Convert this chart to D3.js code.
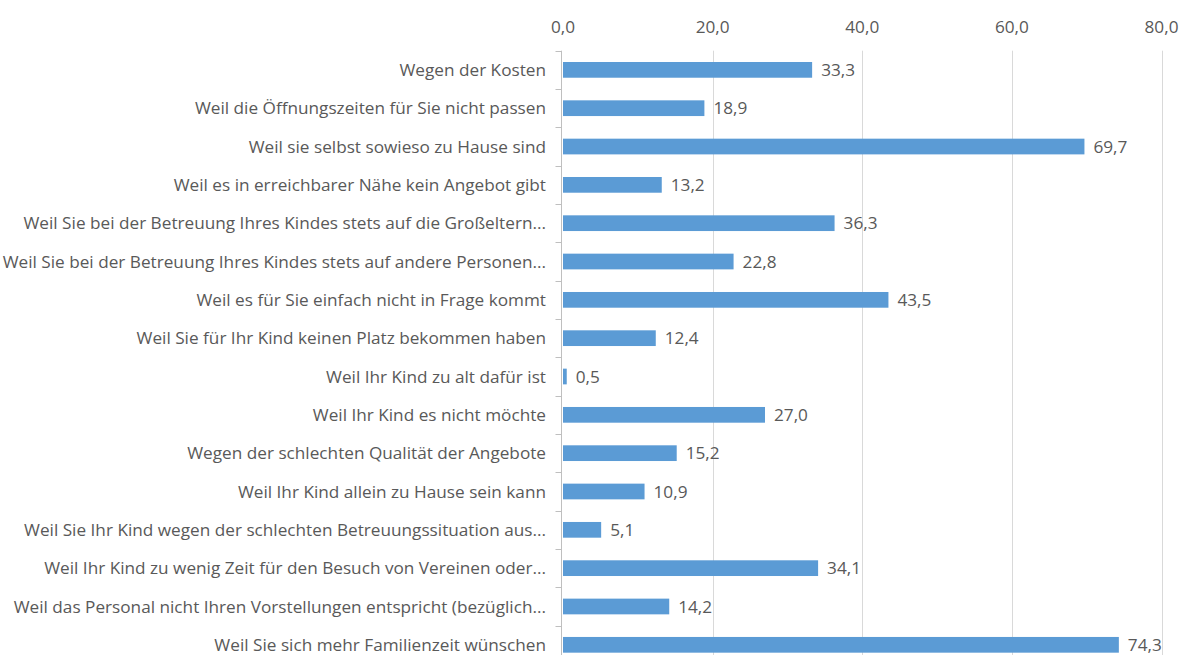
<!DOCTYPE html>
<html>
<head>
<meta charset="utf-8">
<script src="https://cdn.jsdelivr.net/npm/d3@7"></script>
<style>
  body { margin: 0; background: #fff; }
  svg text { font-family: "Open Sans", sans-serif; fill: #595959; font-size: 17.2px; }
</style>
</head>
<body>
<div id="chart"></div>
<script>
var categories = [
  "Wegen der Kosten",
  "Weil die Öffnungszeiten für Sie nicht passen",
  "Weil sie selbst sowieso zu Hause sind",
  "Weil es in erreichbarer Nähe kein Angebot gibt",
  "Weil Sie bei der Betreuung Ihres Kindes stets auf die Großeltern...",
  "Weil Sie bei der Betreuung Ihres Kindes stets auf andere Personen...",
  "Weil es für Sie einfach nicht in Frage kommt",
  "Weil Sie für Ihr Kind keinen Platz bekommen haben",
  "Weil Ihr Kind zu alt dafür ist",
  "Weil Ihr Kind es nicht möchte",
  "Wegen der schlechten Qualität der Angebote",
  "Weil Ihr Kind allein zu Hause sein kann",
  "Weil Sie Ihr Kind wegen der schlechten Betreuungssituation aus...",
  "Weil Ihr Kind zu wenig Zeit für den Besuch von Vereinen oder...",
  "Weil das Personal nicht Ihren Vorstellungen entspricht (bezüglich...",
  "Weil Sie sich mehr Familienzeit wünschen"
];
var values = [33.3, 18.9, 69.7, 13.2, 36.3, 22.8, 43.5, 12.4, 0.5, 27.0, 15.2, 10.9, 5.1, 34.1, 14.2, 74.3];
var tickValues = [0, 20, 40, 60, 80];

var width = 1191, height = 655;
var fmt = function (v) { return d3.format(".1f")(v).replace(".", ","); };

var svg = d3.select("#chart").append("svg")
  .attr("width", width)
  .attr("height", height);

var x = d3.scaleLinear().domain([0, 80]).range([563, 1161.5]);
var y = d3.scaleBand().domain(categories).range([50.7, 50.7 + 38.33 * 16]).paddingInner(0.59).paddingOuter(0.295);
var band = d3.scaleBand().domain(categories).range([50.7, 50.7 + 38.33 * 16]);

// gridlines
svg.append("g").selectAll("line")
  .data(tickValues.slice(1))
  .enter().append("line")
  .attr("x1", function (d) { return Math.round(x(d)) + 0.5; })
  .attr("x2", function (d) { return Math.round(x(d)) + 0.5; })
  .attr("y1", 50.7).attr("y2", height)
  .attr("stroke", "#d9d9d9").attr("stroke-width", 1);

// tick labels (top)
svg.append("g").selectAll("text")
  .data(tickValues)
  .enter().append("text")
  .attr("x", function (d) { return x(d); })
  .attr("y", 33)
  .attr("text-anchor", "middle")
  .text(fmt);

// category axis line + ticks
var ax = 561.5;
svg.append("line")
  .attr("x1", ax).attr("x2", ax)
  .attr("y1", 50.7).attr("y2", height)
  .attr("stroke", "#bfbfbf");
svg.append("g").selectAll("line")
  .data(categories)
  .enter().append("line")
  .attr("x1", ax - 6).attr("x2", ax)
  .attr("y1", function (d) { return Math.round(band(d)) + 0.5; })
  .attr("y2", function (d) { return Math.round(band(d)) + 0.5; })
  .attr("stroke", "#bfbfbf");

// bars
svg.append("g").selectAll("rect")
  .data(values)
  .enter().append("rect")
  .attr("x", x(0))
  .attr("y", function (d, i) { return y(categories[i]); })
  .attr("width", function (d) { return x(d) - x(0); })
  .attr("height", y.bandwidth())
  .attr("fill", "#5b9bd5");

// value labels
svg.append("g").selectAll("text")
  .data(values)
  .enter().append("text")
  .attr("x", function (d) { return x(d) + 9; })
  .attr("y", function (d, i) { return band(categories[i]) + band.bandwidth() / 2; })
  .attr("dy", "0.35em")
  .text(fmt);

// category labels
svg.append("g").selectAll("text")
  .data(categories)
  .enter().append("text")
  .attr("x", 546)
  .attr("y", function (d) { return band(d) + band.bandwidth() / 2; })
  .attr("dy", "0.35em")
  .attr("text-anchor", "end")
  .text(function (d) { return d; });
</script>
</body>
</html>
